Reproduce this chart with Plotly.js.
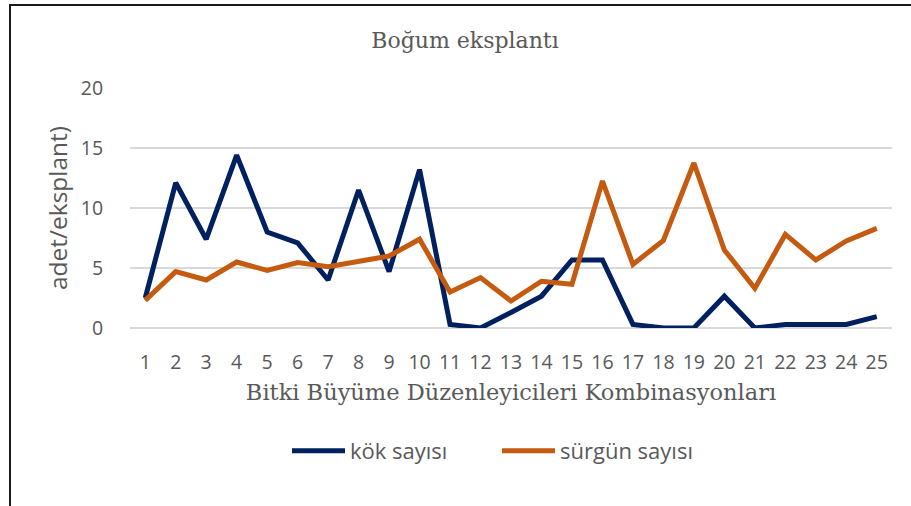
<!DOCTYPE html>
<html>
<head>
<meta charset="utf-8">
<script src="https://cdn.plot.ly/plotly-3.0.1.min.js"></script>
<style>
  html, body { margin: 0; padding: 0; background: #ffffff; }
  #wrap { position: relative; width: 911px; height: 506px; overflow: hidden; }
  #chart { position: absolute; left: 0; top: 0; width: 911px; height: 506px; }
  #frame { position: absolute; left: 9px; top: 4px; width: 920px; height: 500px;
           border-left: 2px solid #1a1a1a; border-top: 2px solid #1a1a1a; border-bottom: 1px solid #a0a0a0;
           pointer-events: none; }
</style>
</head>
<body>
<div id="wrap">
  <div id="chart"></div>
  <div id="frame"></div>
</div>
<script>
const categories = ["1","2","3","4","5","6","7","8","9","10","11","12","13","14","15","16","17","18","19","20","21","22","23","24","25"];
const kokSayisi = [2.5, 12.1, 7.4, 14.4, 8.0, 7.1, 4.0, 11.5, 4.7, 13.2, 0.3, 0.0, 1.3, 2.65, 5.67, 5.67, 0.3, 0.0, 0.0, 2.65, 0.0, 0.3, 0.3, 0.3, 0.95];
const surgunSayisi = [2.3, 4.7, 4.0, 5.5, 4.8, 5.45, 5.1, 5.5, 6.0, 7.4, 3.0, 4.2, 2.25, 3.9, 3.65, 12.25, 5.3, 7.3, 13.75, 6.5, 3.3, 7.8, 5.67, 7.25, 8.3];
const seriesNames = ["kök sayısı", "sürgün sayısı"];
const seriesColors = ["#002060", "#C55A11"];
const yTickVals = [0, 5, 10, 15, 20];

const sans = "Open Sans, sans-serif";
const serif = "DejaVu Serif, serif";
const grey = "#595959";

const traces = [
  { type: "scatter", mode: "lines", name: seriesNames[0], x: categories, y: kokSayisi,
    line: { color: seriesColors[0], width: 5, shape: "linear" } },
  { type: "scatter", mode: "lines", name: seriesNames[1], x: categories, y: surgunSayisi,
    line: { color: seriesColors[1], width: 5, shape: "linear" } }
];

const layout = {
  width: 911, height: 506,
  margin: { l: 130, r: 19, t: 88, b: 178, pad: 0 },
  paper_bgcolor: "#ffffff", plot_bgcolor: "#ffffff",
  showlegend: true,
  title: { text: "Boğum eksplantı", font: { family: serif, size: 22, color: grey },
           x: 465 / 911, xref: "container", xanchor: "center", y: 1 - 40 / 506, yref: "container", yanchor: "middle" },
  xaxis: {
    type: "category", range: [-0.5, 24.5],
    showgrid: false, zeroline: false, showline: false,
    ticks: "outside", ticklen: 17, tickcolor: "rgba(0,0,0,0)",
    tickfont: { family: sans, size: 19.5, color: grey },
    tickangle: 0,
    title: { text: "Bitki Büyüme Düzenleyicileri Kombinasyonları", font: { family: serif, size: 22.5, color: grey }, standoff: 9 },
    automargin: false, fixedrange: true
  },
  yaxis: {
    range: [0, 20], tickvals: yTickVals, ticktext: yTickVals.map(String),
    showgrid: true, gridcolor: "#d9d9d9", gridwidth: 1.3,
    zeroline: true, zerolinecolor: "#d9d9d9", zerolinewidth: 1.3,
    showline: false,
    ticks: "outside", ticklen: 22, tickcolor: "rgba(0,0,0,0)",
    tickfont: { family: sans, size: 19.5, color: grey },
    title: { text: "adet/eksplant)", font: { family: sans, size: 24.5, color: grey }, standoff: 6 },
    automargin: false, fixedrange: true
  },
  legend: {
    orientation: "h", x: (287 - 130) / 762, xanchor: "left", y: (328 - 451) / 240, yanchor: "middle",
    font: { family: sans, size: 22, color: grey },
    itemwidth: 53, entrywidth: 142, entrywidthmode: "pixels",
    bgcolor: "rgba(0,0,0,0)", tracegroupgap: 0
  }
};

Plotly.newPlot("chart", traces, layout, { staticPlot: true, displayModeBar: false });
</script>
</body>
</html>
